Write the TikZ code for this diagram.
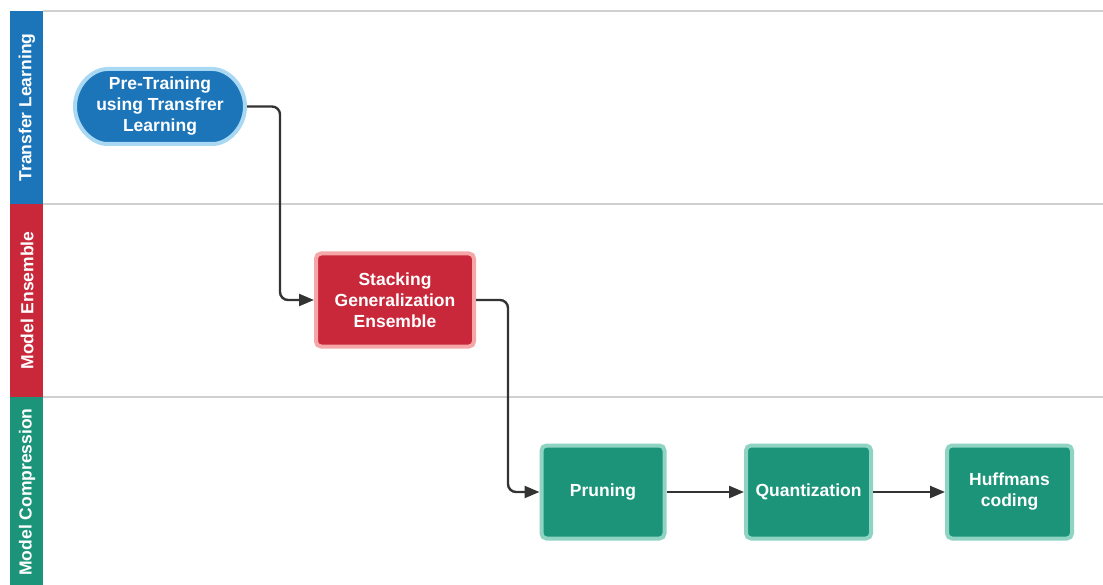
\documentclass[tikz,border=0pt]{standalone}
\usepackage{fontspec}
\setmainfont{Liberation Sans}
\usetikzlibrary{arrows.meta,shapes.misc}
\definecolor{laneblue}{HTML}{1D75B9}
\definecolor{lanered}{HTML}{C8283A}
\definecolor{lanegreen}{HTML}{1B947A}
\definecolor{edgeblue}{HTML}{A9D9F2}
\definecolor{edgered}{HTML}{F5A7A7}
\definecolor{edgegreen}{HTML}{8FD3C3}
\definecolor{divider}{HTML}{D0D0D0}
\definecolor{wire}{HTML}{333333}
\tikzset{
  lanebar/.style={draw=none, inner sep=0pt,
    text=white, font=\bfseries\fontsize{17.5}{20}\selectfont},
  procbox/.style={rectangle, rounded corners=5pt, line width=4pt, text=white,
    inner sep=2pt, align=center, font=\bfseries\fontsize{17.5}{21}\selectfont},
  flow/.style={wire, line width=2.4pt, rounded corners=8pt,
    -{Triangle[length=15pt,width=12pt]}}
}
\begin{document}
\begin{tikzpicture}[x=1pt,y=-1pt]
\useasboundingbox (0,0) rectangle (1103,585);
% lane dividers
\draw[divider, line width=1.8pt] (43,11) -- (1103,11);
\draw[divider, line width=1.8pt] (43,204) -- (1103,204);
\draw[divider, line width=1.8pt] (43,397) -- (1103,397);
% lane header bars
\fill[laneblue] (10,11) rectangle (43,204);
\fill[lanered] (10,204) rectangle (43,397);
\fill[lanegreen] (10,397) rectangle (43,585);
\node[lanebar, rotate=90] (l1) at (27,107.5) {Transfer Learning};
\node[lanebar, rotate=90] (l2) at (27,300.5) {Model Ensemble};
\node[lanebar, rotate=90] (l3) at (27,492) {Model Compression};
% process nodes
\node[procbox, rounded rectangle, fill=laneblue, draw=edgeblue,
  minimum width=174pt, minimum height=75pt] (pre) at (160,106.5)
  {Pre-Training\\using Transfrer\\Learning};
\node[procbox, fill=lanered, draw=edgered,
  minimum width=158pt, minimum height=93pt] (stack) at (395,300)
  {Stacking\\Generalization\\Ensemble};
\node[procbox, fill=lanegreen, draw=edgegreen,
  minimum width=123pt, minimum height=93pt] (prune) at (603,492) {Pruning};
\node[procbox, fill=lanegreen, draw=edgegreen,
  minimum width=125pt, minimum height=93pt] (quant) at (808.5,492) {Quantization};
\node[procbox, fill=lanegreen, draw=edgegreen,
  minimum width=125pt, minimum height=93pt] (huff) at (1009.5,492) {Huffmans\\coding};
% connectors
\draw[flow] (pre.east) -- (280,106.5) -- (280,300) -- (stack.west);
\draw[flow] (stack.east) -- (508,300) -- (508,492) -- (prune.west);
\draw[flow] (prune.east) -- (quant.west);
\draw[flow] (quant.east) -- (huff.west);
\end{tikzpicture}
\end{document}
